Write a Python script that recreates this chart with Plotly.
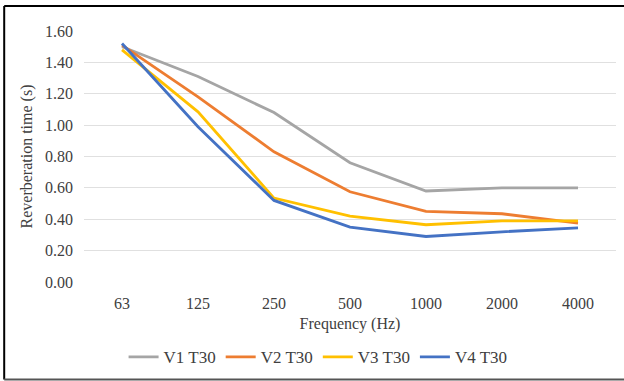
import plotly.graph_objects as go

freqs = ["63", "125", "250", "500", "1000", "2000", "4000"]
v1 = [1.50, 1.31, 1.08, 0.76, 0.58, 0.60, 0.60]
v2 = [1.51, 1.18, 0.83, 0.575, 0.45, 0.435, 0.375]
v3 = [1.48, 1.085, 0.535, 0.42, 0.365, 0.39, 0.39]
v4 = [1.52, 0.99, 0.52, 0.35, 0.29, 0.32, 0.345]
names = ["V1 T30", "V2 T30", "V3 T30", "V4 T30"]
colors = ["#A5A5A5", "#ED7D31", "#FFC000", "#4472C4"]

fig = go.Figure()
for name, vals, c in zip(names, [v1, v2, v3, v4], colors):
    fig.add_trace(go.Scatter(x=freqs, y=vals, name=name, mode="lines",
                             line=dict(color=c, width=2.8)))

serif = "Liberation Serif, Times New Roman, serif"
fig.update_layout(
    width=624, height=381,
    margin=dict(l=84, r=8, t=31, b=99, autoexpand=False),
    paper_bgcolor="white", plot_bgcolor="white",
    font=dict(family=serif, size=16, color="#404040"),
    showlegend=True,
    legend=dict(orientation="h", x=0.44, xanchor="center", y=-0.30, yanchor="middle",
                font=dict(family=serif, size=17, color="#404040"),
                itemwidth=30, traceorder="normal"),
    xaxis=dict(type="category", range=[-0.5, 6.5], showgrid=False, zeroline=False, showline=False,
               ticks="", tickfont=dict(size=16), ticklabelstandoff=10,
               title=dict(text="Frequency (Hz)", font=dict(size=16), standoff=6)),
    yaxis=dict(range=[0, 1.6], dtick=0.2, tickformat=".2f", showgrid=True,
               gridcolor="#E0E0E0", gridwidth=1, zeroline=False, showline=False,
               ticks="", tickfont=dict(size=16), ticklabelstandoff=10,
               title=dict(text="Reverberation time (s)", font=dict(size=16), standoff=8)),
    shapes=[
        dict(type="line", xref="paper", yref="paper", x0=-0.150, x1=1.02, y0=1.0996, y1=1.0996,
             line=dict(color="black", width=2)),
        dict(type="line", xref="paper", yref="paper", x0=-0.150, x1=-0.150, y0=1.0996, y1=-0.388,
             line=dict(color="black", width=2)),
        dict(type="line", xref="paper", yref="paper", x0=-0.150, x1=1.02, y0=-0.388, y1=-0.388,
             line=dict(color="#555555", width=2)),
    ],
)
fig.write_html("out.html")
